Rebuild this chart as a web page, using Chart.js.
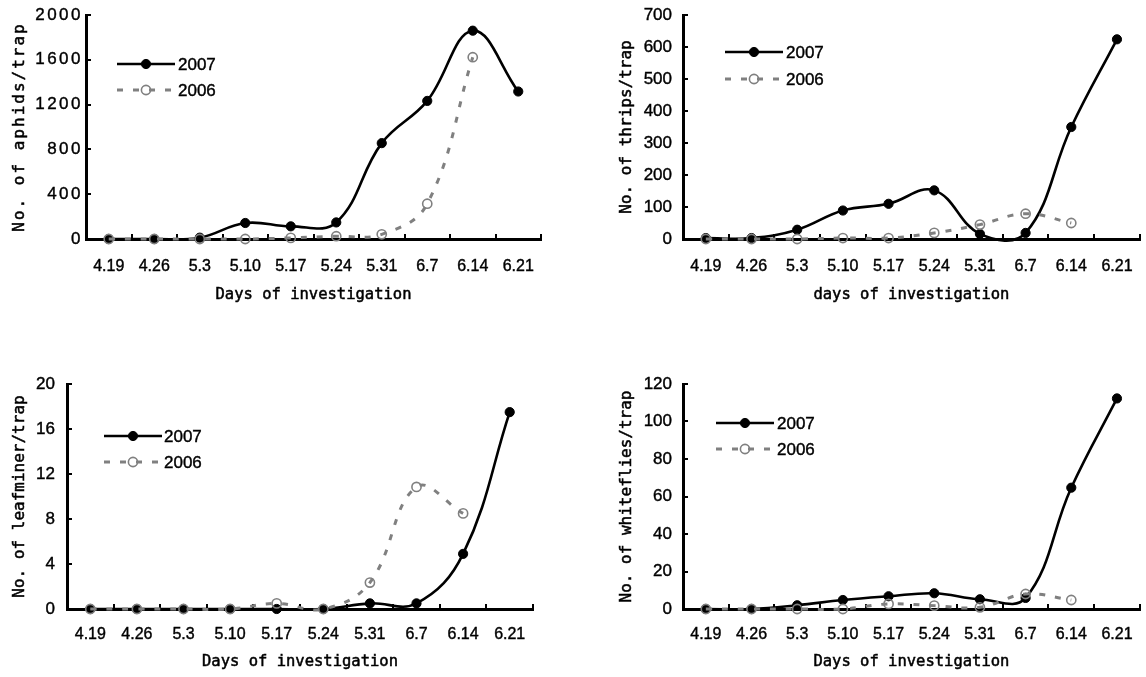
<!DOCTYPE html>
<html>
<head>
<meta charset="utf-8">
<script src="https://cdn.jsdelivr.net/npm/chart.js@4/dist/chart.umd.min.js"></script>
<style>
  html, body { margin: 0; padding: 0; background: #fff; overflow: hidden; }
  body { width: 1146px; height: 677px; position: relative; }
  .panel { position: absolute; }
</style>
</head>
<body>
<div class="panel" style="left:0;top:0;width:560px;height:310px"><canvas id="aphids"></canvas></div>
<div class="panel" style="left:573px;top:0;width:573px;height:310px"><canvas id="thrips"></canvas></div>
<div class="panel" style="left:0;top:360px;width:560px;height:317px"><canvas id="leafminer"></canvas></div>
<div class="panel" style="left:573px;top:360px;width:573px;height:317px"><canvas id="whiteflies"></canvas></div>
<script>
// survey dates (x categories)
const days = ['4.19', '4.26', '5.3', '5.10', '5.17', '5.24', '5.31', '6.7', '6.14', '6.21'];

// counts per trap
const aphids2007 = [0, 0, 12, 143, 113, 148, 856, 1233, 1860, 1317];
const aphids2006 = [0, 0, 0, 0, 10, 25, 42, 315, 1623, null];
const thrips2007 = [3, 3, 29, 89, 110, 152, 16, 19, 350, 624];
const thrips2006 = [0, 0, 0, 3, 3, 19, 45, 79, 50, null];
const leafminer2007 = [0, 0, 0, 0, 0, 0, 0.5, 0.5, 4.9, 17.5];
const leafminer2006 = [0, 0, 0, 0, 0.5, 0, 2.35, 10.85, 8.5, null];
const whiteflies2007 = [0, 0, 2, 4.8, 6.8, 8.4, 5.2, 5.9, 64.7, 112.3];
const whiteflies2006 = [0, 0, 0, 0, 2.7, 1.8, 0.9, 8, 4.8, null];

// y axis ranges
const aphidTicks = { max: 2000, step: 400 };
const thripTicks = { max: 700, step: 100 };
const leafTicks = { max: 20, step: 4 };
const whiteTicks = { max: 120, step: 20 };

const SANS = '"Liberation Sans", Arial, sans-serif';
const MONO = '"DejaVu Sans Mono", monospace';

// extra letter spacing for the first panel's y axis text
const spacing = {
  aphids: { ticks: '2.5px', title: '2px' },
};

const proto = Chart.Scale.prototype;
const baseDrawLabels = proto.drawLabels;
const baseDrawTitle = proto.drawTitle;
proto.drawLabels = function (area) {
  const sp = spacing[this.chart.canvas.id];
  if (!sp || this.axis !== 'y') return baseDrawLabels.call(this, area);
  this.ctx.save();
  this.ctx.letterSpacing = sp.ticks;
  baseDrawLabels.call(this, area);
  this.ctx.restore();
};
// titles: optional letter spacing, plus a thin stroke so they read as heavy as the original
proto.drawTitle = function () {
  const ctx = this.ctx;
  const sp = spacing[this.chart.canvas.id];
  ctx.save();
  if (sp && this.axis === 'y') ctx.letterSpacing = sp.title;
  ctx.strokeStyle = '#000';
  ctx.lineWidth = 0.5;
  const fill = ctx.fillText;
  ctx.fillText = function (t, x, y, w) {
    fill.call(this, t, x, y, w);
    this.strokeText(t, x, y, w);
  };
  baseDrawTitle.call(this);
  delete ctx.fillText;
  ctx.restore();
};

/**
 * Legend drawn inside the plot: line sample with marker, then label
 */
const sampleLegend = {
  id: 'sampleLegend',
  afterDatasetsDraw(chart, args, opts) {
    const ctx = chart.ctx;
    chart.data.datasets.forEach((ds, i) => {
      const y = opts.rows[i];
      const x0 = opts.x;
      const x1 = opts.x + opts.len;
      ctx.save();
      ctx.strokeStyle = ds.borderColor;
      ctx.lineWidth = ds.borderWidth;
      ctx.setLineDash(ds.borderDash || []);
      ctx.beginPath();
      ctx.moveTo(x0, y);
      ctx.lineTo(x1, y);
      ctx.stroke();
      ctx.setLineDash([]);
      ctx.fillStyle = ds.pointBackgroundColor;
      ctx.strokeStyle = ds.pointBorderColor;
      ctx.lineWidth = ds.pointBorderWidth;
      Chart.helpers.drawPoint(ctx, {
        pointStyle: 'circle', rotation: 0,
        radius: ds.pointRadius, borderWidth: ds.pointBorderWidth,
      }, (x0 + x1) / 2, y);
      ctx.fillStyle = '#000';
      ctx.strokeStyle = '#000';
      ctx.lineWidth = 0.4;
      ctx.font = '17px ' + SANS;
      ctx.textAlign = 'left';
      ctx.textBaseline = 'middle';
      ctx.fillText(ds.label, x1 + opts.gap, y + 1);
      ctx.strokeText(ds.label, x1 + opts.gap, y + 1);
      ctx.restore();
    });
  },
};

function series(d07, d06) {
  return [
    {
      label: '2007', data: d07, order: 1,
      borderColor: '#000', borderWidth: 2.6,
      pointRadius: 4.6, pointBackgroundColor: '#000',
      pointBorderColor: '#000', pointBorderWidth: 1,
      clip: false,
    },
    {
      label: '2006', data: d06, order: 0,
      borderColor: '#808080', borderWidth: 3, borderDash: [6, 10],
      pointRadius: 4.6, pointBackgroundColor: 'rgba(255,255,255,0)',
      pointBorderColor: '#808080', pointBorderWidth: 1.6,
      clip: false,
    },
  ];
}

function makeChart(p) {
  new Chart(document.getElementById(p.id), {
    type: 'line',
    data: { labels: days, datasets: series(p.d07, p.d06) },
    plugins: [sampleLegend],
    options: {
      responsive: true,
      maintainAspectRatio: false,
      animation: false,
      devicePixelRatio: 1,
      layout: { padding: { top: p.padTop, right: p.padRight, bottom: 0, left: 0 } },
      elements: { line: { tension: 0.4, capBezierPoints: false } },
      plugins: {
        legend: { display: false },
        tooltip: { enabled: false },
        sampleLegend: p.legend,
      },
      scales: {
        x: {
          type: 'category',
          offset: true,
          grid: { offset: true, drawOnChartArea: false, tickLength: -5, color: '#000', lineWidth: 2 },
          border: { color: '#000', width: 3 },
          ticks: {
            autoSkip: false, maxRotation: 0, padding: p.xTickPad,
            color: '#000', font: { family: SANS, size: 16 },
            textStrokeColor: '#000', textStrokeWidth: 0.4,
          },
          title: {
            display: true, text: p.xTitle, color: '#000',
            font: { family: MONO, size: 15.5 },
            padding: { top: 0, bottom: 5.7 },
          },
          afterFit: (s) => { s.height = p.xHeight; s.paddingLeft = 0; s.paddingRight = 0; },
        },
        y: {
          min: 0,
          max: p.ticks.max,
          grid: { drawOnChartArea: false, tickLength: -5, color: '#000', lineWidth: 2 },
          border: { color: '#000', width: 3 },
          ticks: {
            stepSize: p.ticks.step, padding: p.yTickPad,
            color: '#000', font: { family: SANS, size: 17 },
            textStrokeColor: '#000', textStrokeWidth: 0.4,
            callback: (v) => String(v),
          },
          title: {
            display: true, text: p.yTitle, color: '#000',
            font: { family: MONO, size: 16 },
            padding: { top: p.yTitlePad, bottom: 0 },
          },
          afterFit: (s) => { s.width = p.yWidth; s.paddingTop = 0; s.paddingBottom = 0; },
        },
      },
    },
  });
}

makeChart({
  id: 'aphids', d07: aphids2007, d06: aphids2006, ticks: aphidTicks,
  yTitle: 'No. of aphids/trap', xTitle: 'Days of investigation',
  yWidth: 86, padTop: 15, padRight: 19, xHeight: 71,
  yTickPad: 8, yTitlePad: 10.4, xTickPad: 23.4,
  legend: { x: 117, len: 58, gap: 3, rows: [64, 90] },
});
makeChart({
  id: 'thrips', d07: thrips2007, d06: thrips2006, ticks: thripTicks,
  yTitle: 'No. of thrips/trap', xTitle: 'days of investigation',
  yWidth: 110, padTop: 15, padRight: 1, xHeight: 71,
  yTickPad: 16, yTitlePad: 44.4, xTickPad: 23.4,
  legend: { x: 152, len: 58, gap: 3, rows: [52, 79] },
});
makeChart({
  id: 'leafminer', d07: leafminer2007, d06: leafminer2006, ticks: leafTicks,
  yTitle: 'No. of leafminer/trap', xTitle: 'Days of investigation',
  yWidth: 67, padTop: 24, padRight: 27, xHeight: 68,
  yTickPad: 17, yTitlePad: 10.4, xTickPad: 21.4,
  legend: { x: 104, len: 58, gap: 2, rows: [76, 102] },
});
makeChart({
  id: 'whiteflies', d07: whiteflies2007, d06: whiteflies2006, ticks: whiteTicks,
  yTitle: 'No. of whiteflies/trap', xTitle: 'Days of investigation',
  yWidth: 110, padTop: 24, padRight: 1, xHeight: 68,
  yTickPad: 16, yTitlePad: 44.4, xTickPad: 21.4,
  legend: { x: 143, len: 58, gap: 3, rows: [63, 89] },
});
</script>
</body>
</html>
